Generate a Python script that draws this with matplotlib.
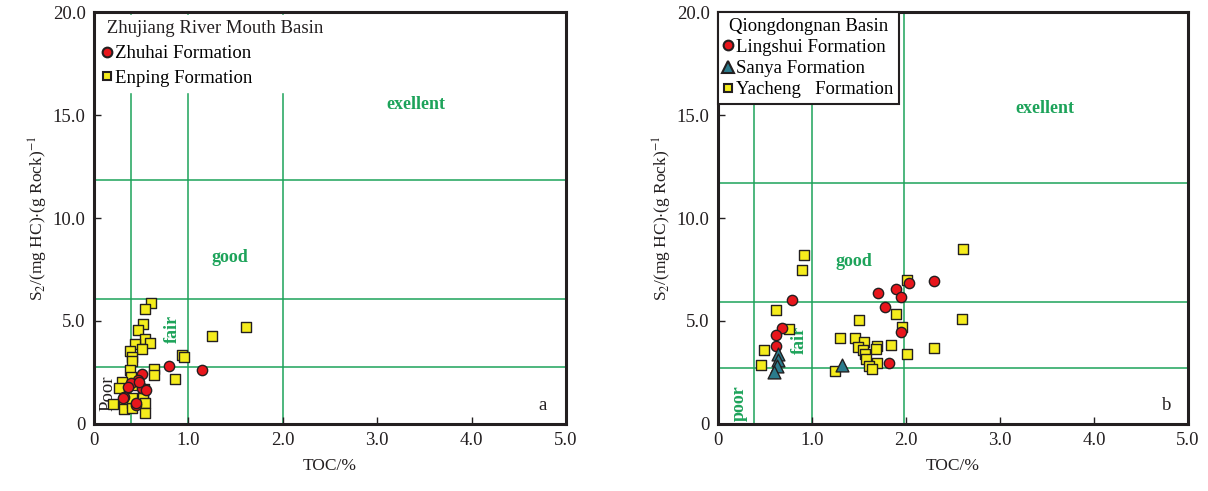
import matplotlib.pyplot as plt
from matplotlib.lines import Line2D

plt.rcParams['font.family'] = ['Liberation Serif', 'DejaVu Serif']
plt.rcParams['mathtext.fontset'] = 'stix'

# Zhujiang River Mouth Basin
zhuhai_toc = [0.51, 0.47, 0.39, 0.36, 0.51, 0.55, 0.32, 0.44, 0.80, 1.14,
              0.31, 0.45, 0.48]
zhuhai_s2 = [2.41, 2.14, 1.97, 1.78, 1.76, 1.65, 1.30, 0.92, 2.83, 2.61,
             1.25, 1.03, 2.02]
enping_toc = [0.60, 0.54, 0.52, 0.47, 0.54, 0.59, 0.43, 0.51, 0.38, 0.40,
              0.40, 0.93, 0.95, 0.38, 0.64, 0.64, 0.86, 0.39, 0.30, 0.27,
              0.42, 0.53, 0.52, 0.52, 0.20, 0.32, 0.32, 0.40, 0.40, 0.54,
              0.54, 0.40, 1.25, 1.61]
enping_s2 = [5.86, 5.58, 4.85, 4.56, 4.14, 3.92, 3.87, 3.63, 3.54, 3.27,
             3.06, 3.33, 3.24, 2.62, 2.65, 2.38, 2.17, 2.27, 2.05, 1.73,
             1.89, 1.70, 1.46, 1.25, 0.96, 1.00, 0.73, 1.00, 0.76, 1.00,
             0.52, 1.25, 4.27, 4.69]

# Qiongdongnan Basin
lingshui_toc = [0.79, 0.68, 0.62, 0.62, 2.30, 2.03, 1.89, 1.70, 1.95, 1.78,
                1.95, 1.82]
lingshui_s2 = [6.04, 4.67, 4.33, 3.80, 6.92, 6.84, 6.55, 6.36, 6.15, 5.70,
               4.48, 2.96]
sanya_toc = [0.64, 0.64, 0.63, 0.60, 1.32]
sanya_s2 = [3.41, 3.09, 2.80, 2.53, 2.88]
yacheng_toc = [0.91, 0.89, 0.62, 0.75, 0.49, 0.46, 2.61, 2.01, 1.89, 1.50,
               2.60, 1.96, 1.30, 1.46, 1.55, 1.49, 1.69, 1.68, 1.84, 1.54,
               2.30, 2.01, 1.56, 1.57, 1.69, 1.61, 1.64, 1.24]
yacheng_s2 = [8.21, 7.49, 5.54, 4.60, 3.61, 2.88, 8.50, 7.00, 5.35, 5.06,
              5.12, 4.69, 4.19, 4.19, 3.96, 3.75, 3.77, 3.62, 3.82, 3.57,
              3.69, 3.40, 3.40, 3.16, 2.96, 2.83, 2.67, 2.58]

xticks = [0, 1, 2, 3, 4, 5]
xlabels = ['0', '1.0', '2.0', '3.0', '4.0', '5.0']
yticks = [0, 5, 10, 15, 20]
ylabels = ['0', '5.0', '10.0', '15.0', '20.0']

green = '#1da35a'
yellow = '#f5ec1c'
red = '#e8161c'
teal = '#2b7b8c'
dark = '#231f20'

fig = plt.figure(figsize=(12.08, 4.91), dpi=100)
ax1 = fig.add_axes([0.0778, 0.1365, 0.3907, 0.839])
ax2 = fig.add_axes([0.5944, 0.1365, 0.3891, 0.839])


def setup(ax, vlines, hlines):
    ax.set_xlim(0, 5)
    ax.set_ylim(0, 20)
    ax.set_xticks(xticks)
    ax.set_xticklabels(xlabels)
    ax.set_yticks(yticks)
    ax.set_yticklabels(ylabels)
    ax.tick_params(direction='in', length=5, width=1, labelsize=13.5,
                   colors=dark, pad=6)
    for s in ax.spines.values():
        s.set_linewidth(2.2)
        s.set_color(dark)
    for v in vlines:
        ax.axvline(v, color=green, lw=1.1, zorder=1)
    for h in hlines:
        ax.axhline(h, color=green, lw=1.1, zorder=1)
    ax.set_xlabel('TOC/%', fontsize=12.5, color=dark, labelpad=6)
    ax.set_ylabel(r'S$_2$/(mg HC)$\cdot$(g Rock)$^{-1}$', fontsize=12.5,
                  color=dark, labelpad=2)


setup(ax1, [0.39, 1.0, 2.0], [2.75, 6.05, 11.85])
setup(ax2, [0.38, 1.0, 1.98], [2.7, 5.9, 11.7])

mk = dict(edgecolors=dark, linewidths=1.0, zorder=3)
ax1.scatter(enping_toc, enping_s2, marker='s', s=55, c=yellow, **mk)
ax1.scatter(zhuhai_toc, zhuhai_s2, marker='o', s=55, c=red, **mk)

ax2.scatter(yacheng_toc, yacheng_s2, marker='s', s=55, c=yellow, **mk)
ax2.scatter(lingshui_toc, lingshui_s2, marker='o', s=55, c=red, **mk)
ax2.scatter(sanya_toc, sanya_s2, marker='^', s=85, c=teal, **mk)

lab = dict(color=green, fontweight='bold', fontsize=13, ha='center',
           va='center', zorder=2)
ax1.text(3.41, 15.5, 'exellent', **lab)
ax1.text(1.44, 8.1, 'good', **lab)
ax1.text(0.83, 4.6, 'fair', rotation=90, **lab)
ax1.text(0.15, 1.5, 'Poor', rotation=90, color=dark, fontsize=13.5,
         ha='center', va='center', zorder=2)
ax1.text(4.75, 0.9, 'a', fontsize=13.5, color=dark, ha='center', va='center')

ax2.text(3.48, 15.3, 'exellent', **lab)
ax2.text(1.45, 7.9, 'good', **lab)
ax2.text(0.87, 4.1, 'fair', rotation=90, **lab)
ax2.text(0.23, 1.0, 'poor', rotation=90, **lab)
ax2.text(4.77, 0.9, 'b', fontsize=13.5, color=dark, ha='center', va='center')

h1 = [Line2D([], [], ls='', marker='o', ms=7, mfc=red, mec=dark, mew=1.5),
      Line2D([], [], ls='', marker='s', ms=6, mfc=yellow, mec=dark, mew=1.5)]
leg1 = ax1.legend(h1, ['Zhuhai Formation', 'Enping Formation'],
                  title=' Zhujiang River Mouth Basin', loc='upper left',
                  bbox_to_anchor=(0.0, 1.0), frameon=True, fancybox=False,
                  framealpha=1, edgecolor='white', fontsize=13.5,
                  title_fontsize=13.5, handlelength=0.5, handletextpad=0.15,
                  borderaxespad=0.15, labelspacing=0.4, borderpad=0.3,
                  alignment='left')
leg1.get_title().set_color(dark)
leg1.set_zorder(5)

h2 = [Line2D([], [], ls='', marker='o', ms=7, mfc=red, mec=dark, mew=1.5),
      Line2D([], [], ls='', marker='^', ms=8, mfc=teal, mec=dark, mew=1.5),
      Line2D([], [], ls='', marker='s', ms=6, mfc=yellow, mec=dark, mew=1.5)]
leg2 = ax2.legend(h2, ['Lingshui Formation', 'Sanya Formation',
                       'Yacheng   Formation'],
                  title='Qiongdongnan Basin', loc='upper left',
                  bbox_to_anchor=(0.0, 1.0), frameon=True, fancybox=False,
                  framealpha=1, edgecolor=dark, fontsize=13.5,
                  title_fontsize=13.5, handlelength=0.5, handletextpad=0.15,
                  borderaxespad=0.0, labelspacing=0.22, borderpad=0.3)
leg2.get_frame().set_linewidth(1.5)
leg2.set_zorder(5)

plt.savefig('out.png', dpi=100)
